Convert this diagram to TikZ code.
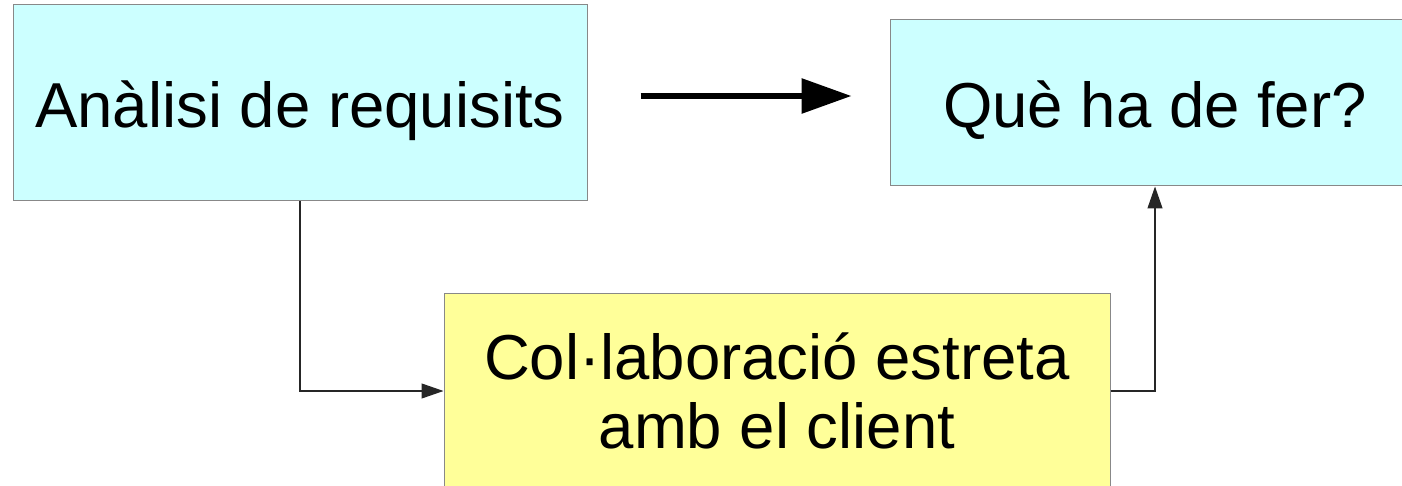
\documentclass[tikz,border=0pt]{standalone}
\usepackage{fontspec}
\setmainfont{Liberation Sans}
\usetikzlibrary{arrows.meta}
\definecolor{boxcyan}{HTML}{CCFFFF}
\definecolor{boxyellow}{HTML}{FFFF99}
\definecolor{boxline}{HTML}{888888}

\begin{document}
\begin{tikzpicture}[x=1pt, y=-1pt, every node/.style={font=\fontsize{63.5}{69}\selectfont, inner sep=0pt, align=center}, box/.style={draw=boxline, line width=1pt}, link/.style={draw=black!85, line width=1.2pt, -{Triangle[length=22pt,width=15pt]}}, bigarrow/.style={line width=6pt, -{Triangle[length=50pt,width=34pt]}}]
  \useasboundingbox (0,0) rectangle (1402,486);
  \clip (0,0) rectangle (1402,486);
  \node[box, fill=boxcyan, minimum width=574pt, minimum height=196pt, text depth=0pt] (analisi) at (300,103) {\raisebox{-3pt}{Anàlisi de requisits}};
  \node[box, fill=boxcyan, minimum width=530pt, minimum height=166pt, text depth=0pt] (que) at (1155,103) {\raisebox{-3pt}{Què ha de fer?}};
  \node[box, fill=boxyellow, minimum width=666pt, minimum height=196pt] (client) at (777,391) {Col·laboració estreta\\amb el client};
  \draw[bigarrow] ([shift={(53,-7)}]analisi.east) -- ([shift={(-38,-7)}]que.west);
  \draw[link] (analisi.south) |- (client.west);
  \draw[link] (client.east) -| (que.south);
\end{tikzpicture}
\end{document}
